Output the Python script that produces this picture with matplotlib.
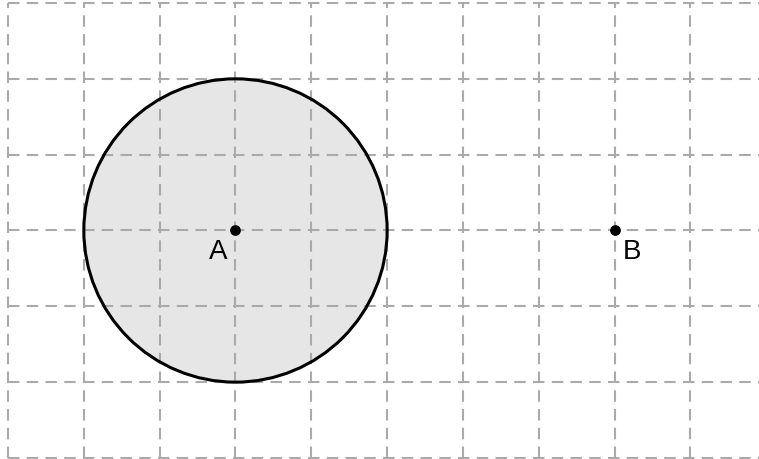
import matplotlib
matplotlib.use("Agg")
import matplotlib.pyplot as plt
from matplotlib.patches import Circle

# grid extents (units)
grid_x = list(range(0, 10))      # vertical lines
grid_y = list(range(0, 7))       # horizontal lines
h_line_extent = (0, 10)
v_line_extent = (0, 6)

point_names = ["A", "B"]
point_x = [3, 8]
point_y = [3, 3]
circle_center = (3, 3)
circle_radius = 2

unit_px = 75.83
fig = plt.figure(figsize=(7.59, 4.60), dpi=100)
ax = fig.add_axes([0, 0, 1, 1])
x0 = -8 / unit_px
ytop = 6 + 4 / unit_px
ax.set_xlim(x0, x0 + 759 / unit_px)
ax.set_ylim(ytop - 460 / unit_px, ytop)
ax.set_aspect("equal")
ax.axis("off")

grid_kw = dict(color="#aaaaaa", lw=1.5, ls=(0, (5.5, 3.5)), zorder=1)
for gx in grid_x:
    ax.plot([gx, gx], v_line_extent, **grid_kw)
for gy in grid_y:
    ax.plot(h_line_extent, [gy, gy], **grid_kw)

ax.add_patch(Circle(circle_center, circle_radius, facecolor="#d3d3d3", alpha=0.55,
                    edgecolor="none", zorder=0.5))
ax.add_patch(Circle(circle_center, circle_radius, facecolor="none",
                    edgecolor="black", lw=2.2, zorder=3))

ax.scatter(point_x, point_y, s=45, color="black", zorder=4)
ax.text(point_x[0] - 0.23, point_y[0] - 0.27, point_names[0], fontsize=20,
        family="Liberation Sans", ha="center", va="center", zorder=5)
ax.text(point_x[1] + 0.23, point_y[1] - 0.265, point_names[1], fontsize=20,
        family="Liberation Sans", ha="center", va="center", zorder=5)

fig.savefig("out.png", dpi=100)
